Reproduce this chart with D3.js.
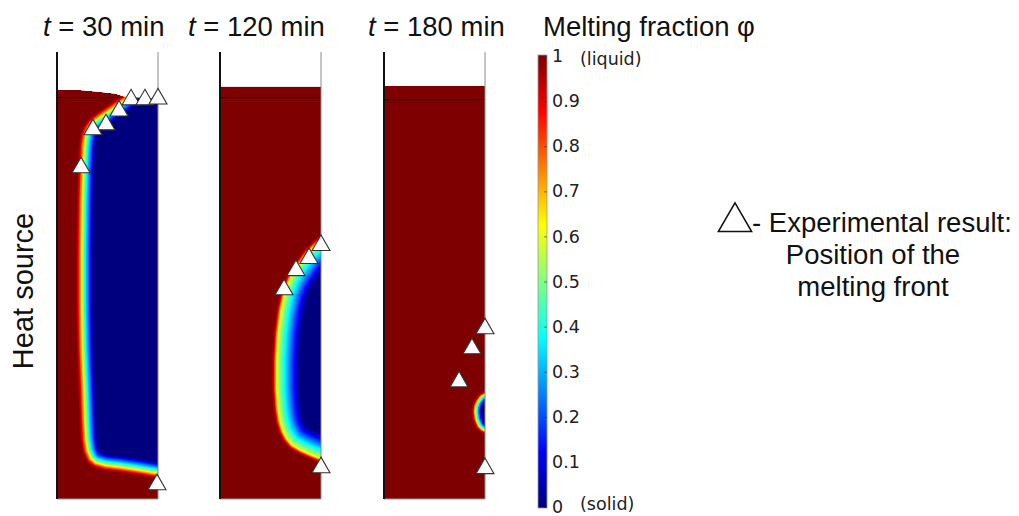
<!DOCTYPE html>
<html>
<head>
<meta charset="utf-8">
<script src="https://cdn.jsdelivr.net/npm/d3@7"></script>
<style>
  body { margin: 0; background: #fff; }
  svg { display: block; font-family: "Liberation Sans", Arial, sans-serif; }
</style>
</head>
<body>
<div id="chart"></div>
<script>
// x = % of container width from the heated wall, y = % of wall height from the bottom
const timeLabels = ["30", "120", "180"];

// melting front (red edge of the mushy zone), top to bottom
const front30X = [66.3, 60.4, 52.5, 44.6, 37.6, 31.7, 27.7, 24.8, 23.3, 22.3, 21.3, 20.6, 20.6, 21.3, 22.8, 23.8, 24.8, 26.7, 30.7, 36.6, 47.5, 62.4, 82.2, 100];
const front30Y = [90.2, 89.3, 88.0, 86.8, 85.7, 84.6, 83.2, 81.6, 79.2, 74.7, 66.9, 55.7, 42.3, 33.3, 24.4, 17.7, 13.2, 10.5, 8.5, 7.4, 6.7, 6.3, 5.6, 4.9];
const front120X = [100, 97.0, 91.1, 84.2, 76.2, 67.3, 61.4, 57.4, 54.5, 53.0, 53.0, 54.5, 56.4, 59.4, 63.4, 69.3, 79.2, 90.1, 100];
const front120Y = [58.8, 58.2, 57.0, 55.5, 53.0, 49.9, 46.5, 42.3, 37.1, 31.1, 24.4, 19.9, 17.2, 15.0, 13.2, 11.6, 10.3, 9.2, 8.3];
const front180X = [100, 95.0, 91.1, 88.6, 88.1, 89.1, 92.1, 96.0, 100];
const front180Y = [23.9, 23.3, 22.1, 20.8, 19.5, 17.7, 16.1, 15.2, 14.8];

// top of the material (liquid surface / solid top)
const surf30X = [0, 22.8, 42.6, 57.4, 66.3, 100];
const surf30Y = [91.5, 91.4, 91.0, 90.6, 90.0, 89.5];
const surf120X = [0, 100];
const surf120Y = [92.2, 92.2];
const surf180X = [0, 100];
const surf180Y = [92.4, 92.4];

// initial filling level line
const levelY = [89.8, 89.8, 89.3];
const levelEndX = [66, 100, 100];

// melting fraction across the mushy zone vs distance (px) into the solid
const prof30D = [-2, 0, 4, 7, 15];
const prof120D = [-2, 0, 3, 10, 26];
const prof180D = [-2, 0, 2, 4, 8];
const profPhi = [1, 0.92, 0.6, 0.4, 0];

// experimental melting front positions
const tri30X = [73.3, 87.1, 100, 61.4, 48.5, 35.6, 23.8, 99.0];
const tri30Y = [89.9, 89.9, 90.1, 87.4, 84.3, 83.2, 74.7, 3.8];
const tri120X = [100, 88.1, 75.2, 63.4, 100];
const tri120Y = [57.3, 54.4, 51.7, 47.4, 7.6];
const tri180X = [100, 87.1, 74.3, 100];
const tri180Y = [38.7, 34.2, 26.8, 7.4];

// colour bar
const cbTicks = [0, 0.1, 0.2, 0.3, 0.4, 0.5, 0.6, 0.7, 0.8, 0.9, 1];
const jetStops = [0, 0.125, 0.375, 0.625, 0.875, 1];
const jetColors = ["#00007f", "#0000ff", "#00ffff", "#ffff00", "#ff0000", "#7f0000"];

const WIDTH = 1019, HEIGHT = 516;
const PANEL_LEFT = [57, 220, 384];
const PW = 101, TOP = 52, BOTTOM = 499;
const PH = BOTTOM - TOP;

const jet = d3.scaleLinear().domain(jetStops).range(jetColors).clamp(true);

const panels = [
    { fx: front30X, fy: front30Y, sx: surf30X, sy: surf30Y, pd: prof30D, tx: tri30X, ty: tri30Y },
    { fx: front120X, fy: front120Y, sx: surf120X, sy: surf120Y, pd: prof120D, tx: tri120X, ty: tri120Y },
    { fx: front180X, fy: front180Y, sx: surf180X, sy: surf180Y, pd: prof180D, tx: tri180X, ty: tri180Y }
];

const svg = d3.select("#chart")
    .append("svg")
    .attr("width", WIDTH)
    .attr("height", HEIGHT);

const x = d3.scaleLinear().domain([0, 100]).range([0, PW]);
const y = d3.scaleLinear().domain([0, 100]).range([PH, 0]);

function segDist(px, py, a, b) {
    const dx = b[0] - a[0], dy = b[1] - a[1];
    const l2 = dx * dx + dy * dy;
    let t = l2 ? ((px - a[0]) * dx + (py - a[1]) * dy) / l2 : 0;
    t = Math.max(0, Math.min(1, t));
    const ex = a[0] + t * dx - px, ey = a[1] + t * dy - py;
    return Math.sqrt(ex * ex + ey * ey);
}

function drawField(g, p) {
    const surf = d3.scaleLinear().domain(p.sx).range(p.sy).clamp(true);
    const prof = d3.scaleLinear().domain(p.pd).range(profPhi).clamp(true);
    const pts = p.fx.map((v, i) => [x(v), y(p.fy[i])]);
    const first = pts[0], last = pts[pts.length - 1];
    const poly = pts.concat([[PW + 40, last[1]], [PW + 40, -80], [first[0], -80]]);

    const canvas = document.createElement("canvas");
    canvas.width = PW;
    canvas.height = PH;
    const ctx = canvas.getContext("2d");
    const img = ctx.createImageData(PW, PH);
    for (let j = 0; j < PH; j++) {
        for (let i = 0; i < PW; i++) {
            const px = i + 0.5, py = j + 0.5;
            const top = y(surf(x.invert(px)));
            if (py < top - 0.5) continue;
            let d = Infinity;
            for (let k = 0; k < pts.length - 1; k++) {
                d = Math.min(d, segDist(px, py, pts[k], pts[k + 1]));
            }
            const phi = prof(d3.polygonContains(poly, [px, py]) ? d : -d);
            const c = d3.rgb(jet(phi));
            const o = (j * PW + i) * 4;
            img.data[o] = c.r;
            img.data[o + 1] = c.g;
            img.data[o + 2] = c.b;
            img.data[o + 3] = py < top ? Math.round(255 * (py - top + 0.5)) : 255;
        }
    }
    ctx.putImageData(img, 0, 0);
    g.append("image")
        .attr("width", PW)
        .attr("height", PH)
        .attr("href", canvas.toDataURL());
}

const tri = d3.symbol(d3.symbolTriangle, 140);

panels.forEach((p, n) => {
    const g = svg.append("g").attr("transform", `translate(${PANEL_LEFT[n]}, ${TOP})`);
    drawField(g, p);

    g.append("line")
        .attr("x1", x(0)).attr("x2", x(levelEndX[n]))
        .attr("y1", y(levelY[n])).attr("y2", y(levelY[n]))
        .attr("stroke", "#2a0000").attr("stroke-width", 1);

    // container walls
    g.append("line").attr("x1", x(100)).attr("x2", x(100)).attr("y1", 0).attr("y2", PH)
        .attr("stroke", "#8a8a8a").attr("stroke-width", 1);
    g.append("line").attr("x1", x(0)).attr("x2", x(100)).attr("y1", PH).attr("y2", PH)
        .attr("stroke", "#9a9a9a").attr("stroke-width", 1);
    g.append("line").attr("x1", x(0)).attr("x2", x(0)).attr("y1", 0).attr("y2", PH)
        .attr("stroke", "#111").attr("stroke-width", 2);

    g.selectAll("path.tri")
        .data(p.tx.map((v, i) => [v, p.ty[i]]))
        .enter()
        .append("path")
        .attr("class", "tri")
        .attr("d", tri)
        .attr("transform", d => `translate(${x(d[0])}, ${y(d[1]) + 2.5})`)
        .attr("fill", "#fff")
        .attr("stroke", "#333")
        .attr("stroke-width", 1.1);
});

// panel titles
const titleX = [43, 188, 368];
timeLabels.forEach((t, i) => {
    const txt = svg.append("text")
        .attr("x", titleX[i])
        .attr("y", 36)
        .attr("font-size", "27.5px")
        .attr("fill", "#111");
    txt.append("tspan").attr("font-style", "italic").text("t");
    txt.append("tspan").text(` = ${t} min`);
});

svg.append("text")
    .attr("transform", "translate(33, 291) rotate(-90)")
    .attr("text-anchor", "middle")
    .attr("font-size", "29px")
    .attr("fill", "#111")
    .text("Heat source");

// colour bar
const cb = d3.scaleLinear().domain([0, 1]).range([507, 56]);
const grad = svg.append("defs").append("linearGradient")
    .attr("id", "jet")
    .attr("x1", 0).attr("x2", 0).attr("y1", 1).attr("y2", 0);
grad.selectAll("stop")
    .data(jetStops)
    .enter()
    .append("stop")
    .attr("offset", d => d)
    .attr("stop-color", (d, i) => jetColors[i]);

svg.append("rect")
    .attr("x", 538).attr("y", cb(1) - 1)
    .attr("width", 9).attr("height", cb(0) - cb(1) + 2)
    .attr("fill", "url(#jet)")
    .attr("stroke", "#999").attr("stroke-width", 0.8);

const cbAxis = svg.append("g")
    .attr("transform", "translate(547, 0)")
    .call(d3.axisRight(cb).tickValues(cbTicks).tickSize(-3).tickPadding(5).tickFormat(d3.format(".1~f")));
cbAxis.select(".domain").remove();
cbAxis.selectAll("line").attr("stroke", "#333").attr("stroke-opacity", 0.6);
cbAxis.selectAll("text")
    .attr("font-family", "'DejaVu Sans', sans-serif")
    .attr("font-size", "17.5px")
    .attr("fill", "#222");

svg.append("text")
    .attr("x", 580).attr("y", 65)
    .attr("font-family", "'DejaVu Sans', sans-serif")
    .attr("font-size", "17.5px").attr("fill", "#222")
    .text("(liquid)");
svg.append("text")
    .attr("x", 580).attr("y", 510)
    .attr("font-family", "'DejaVu Sans', sans-serif")
    .attr("font-size", "17.5px").attr("fill", "#222")
    .text("(solid)");

svg.append("text")
    .attr("x", 543).attr("y", 36)
    .attr("font-size", "27.5px").attr("fill", "#111")
    .text("Melting fraction φ");

// legend
svg.append("path")
    .attr("d", d3.symbol(d3.symbolTriangle, 480))
    .attr("transform", "translate(735, 222)")
    .attr("fill", "#fff")
    .attr("stroke", "#111")
    .attr("stroke-width", 1.5);

svg.append("text")
    .attr("x", 752).attr("y", 232)
    .attr("font-size", "27.5px").attr("fill", "#111")
    .text("- Experimental result:");
const legendLines = ["Position of the", "melting front"];
svg.selectAll("text.leg")
    .data(legendLines)
    .enter()
    .append("text")
    .attr("class", "leg")
    .attr("x", 873)
    .attr("y", (d, i) => 264 + i * 32)
    .attr("text-anchor", "middle")
    .attr("font-size", "27.5px")
    .attr("fill", "#111")
    .text(d => d);
</script>
</body>
</html>
